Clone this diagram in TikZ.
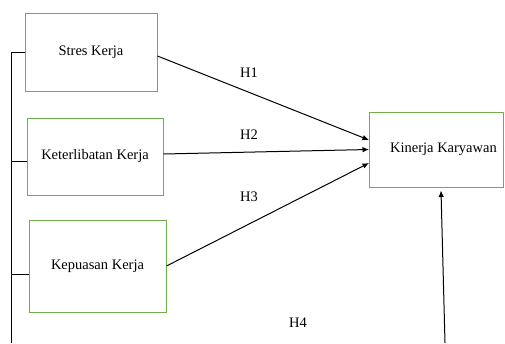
\documentclass[tikz,border=0pt]{standalone}
\usepackage{fontspec}
\setmainfont{Liberation Serif}
\usepackage{tikz}
\usetikzlibrary{arrows.meta}
\definecolor{boxgreen}{RGB}{112,173,71}

\begin{document}
\begin{tikzpicture}[x=1pt,y=-1pt,
    varbox/.style={draw=boxgreen, line width=1pt, inner sep=0pt},
    hyp/.style={-{Latex[length=6.5pt,width=5.5pt]}, line width=1pt},
    font=\fontsize{14.5}{17}\selectfont]
  \useasboundingbox (0,0) rectangle (505,343);

  \node[varbox, minimum width=132pt, minimum height=78pt] (stres) at (91,52) {Stres Kerja};
  \node[varbox, minimum width=136pt, minimum height=77pt] (ketr) at (95,156.5) {Keterlibatan Kerja};
  \node[varbox, minimum width=137pt, minimum height=92pt] (kepu) at (97.5,266) {Kepuasan Kerja};
  \node[varbox, minimum width=134pt, minimum height=75pt] (kiner) at (436.5,149.5) {\hspace*{14pt}Kinerja Karyawan};

  \begin{scope}[line width=1pt]
    \coordinate (bus) at (11,343);
    \draw (bus) -- (bus |- stres.west) -- (stres.west);
    \draw ([yshift=-4.5pt]ketr.west) -- ++(-16,0);
    \draw ([yshift=-8pt]kepu.west) -- ++(-18,0);
  \end{scope}

  \draw[hyp] ([yshift=-4pt]stres.east) -- ([yshift=9.5pt]kiner.west);
  \draw[hyp] ([yshift=2.5pt]ketr.east) -- (kiner.west);
  \draw[hyp] (kepu.east) -- ([yshift=-13.5pt]kiner.west);

  \coordinate (hsrc) at (445,343);
  \draw[hyp] (hsrc) -- ([xshift=4.5pt,yshift=-3pt]kiner.south);

  \node (h1) at (249,73) {H1};
  \node (h2) at (249,135) {H2};
  \node (h3) at (249,197) {H3};
  \node (h4) at (298,323) {H4};

\end{tikzpicture}
\end{document}
